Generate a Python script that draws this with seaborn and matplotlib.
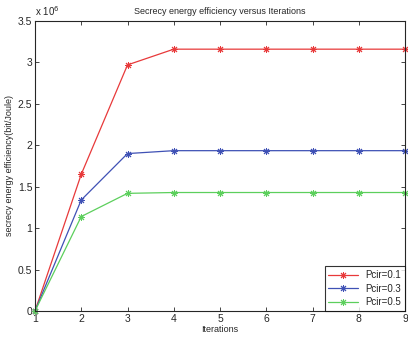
import numpy as np
import pandas as pd
import matplotlib
matplotlib.use('Agg')
import matplotlib.pyplot as plt
import seaborn as sns

# data (in units of 1e6 bit/Joule)
iterations = [1, 2, 3, 4, 5, 6, 7, 8, 9]
pcir_01 = [0.0, 1.65, 2.97, 3.16, 3.16, 3.16, 3.16, 3.16, 3.16]
pcir_03 = [0.0, 1.34, 1.90, 1.935, 1.935, 1.935, 1.935, 1.935, 1.935]
pcir_05 = [0.0, 1.14, 1.42, 1.43, 1.43, 1.43, 1.43, 1.43, 1.43]
labels = ['Pcir=0.1', 'Pcir=0.3', 'Pcir=0.5']
colors = ['#e8393a', '#3f51b5', '#5ccf5c']

df = pd.DataFrame({
    'Iterations': iterations * 3,
    'value': pcir_01 + pcir_03 + pcir_05,
    'series': sum([[l] * len(iterations) for l in labels], []),
})

sns.set_style('ticks')
plt.rcParams['font.family'] = ['Liberation Sans', 'DejaVu Sans']

fig = plt.figure(figsize=(4.08, 3.37), dpi=100)
ax = fig.add_axes([35 / 408, 26 / 337, 370 / 408, 290 / 337])

sns.lineplot(data=df, x='Iterations', y='value', hue='series', palette=colors,
             marker=(8, 2, 0), markersize=5, linewidth=0.9, ax=ax, legend=False)

# seaborn gives white marker edges; asterisk markers need the line colour
for line in ax.lines:
    line.set_markeredgecolor(line.get_color())
    line.set_markeredgewidth(0.7)
    line.set_clip_on(False)

ax.set_xlim(1, 9)
ax.set_ylim(0, 3.5)
ax.set_xticks(iterations)
ax.set_yticks([0, 0.5, 1, 1.5, 2, 2.5, 3, 3.5])
ax.set_yticklabels(['0', '0.5', '1', '1.5', '2', '2.5', '3', '3.5'])
ax.tick_params(direction='in', length=3, width=0.6, labelsize=7.5, pad=2,
               top=True, right=True)
for s in ax.spines.values():
    s.set_linewidth(0.8)
    s.set_visible(True)

ax.set_xlabel('Iterations', fontsize=6.5, labelpad=1)
ax.set_ylabel('secrecy energy efficiency(bit/Joule)', fontsize=6.5, labelpad=3)
ax.set_title('Secrecy energy efficiency versus Iterations', fontsize=6.5, pad=5)
ax.text(0.0, 1.01, r'x 10$^{6}$', transform=ax.transAxes, fontsize=7,
        ha='left', va='bottom')

leg = ax.legend(ax.lines[:3], labels, loc='lower right', fontsize=7,
                frameon=True, fancybox=False, edgecolor='black', borderpad=0.4,
                labelspacing=0.35, handlelength=3.0, borderaxespad=0)
leg.get_frame().set_linewidth(0.8)
leg.set_zorder(5)

fig.savefig('out.png', dpi=100)
